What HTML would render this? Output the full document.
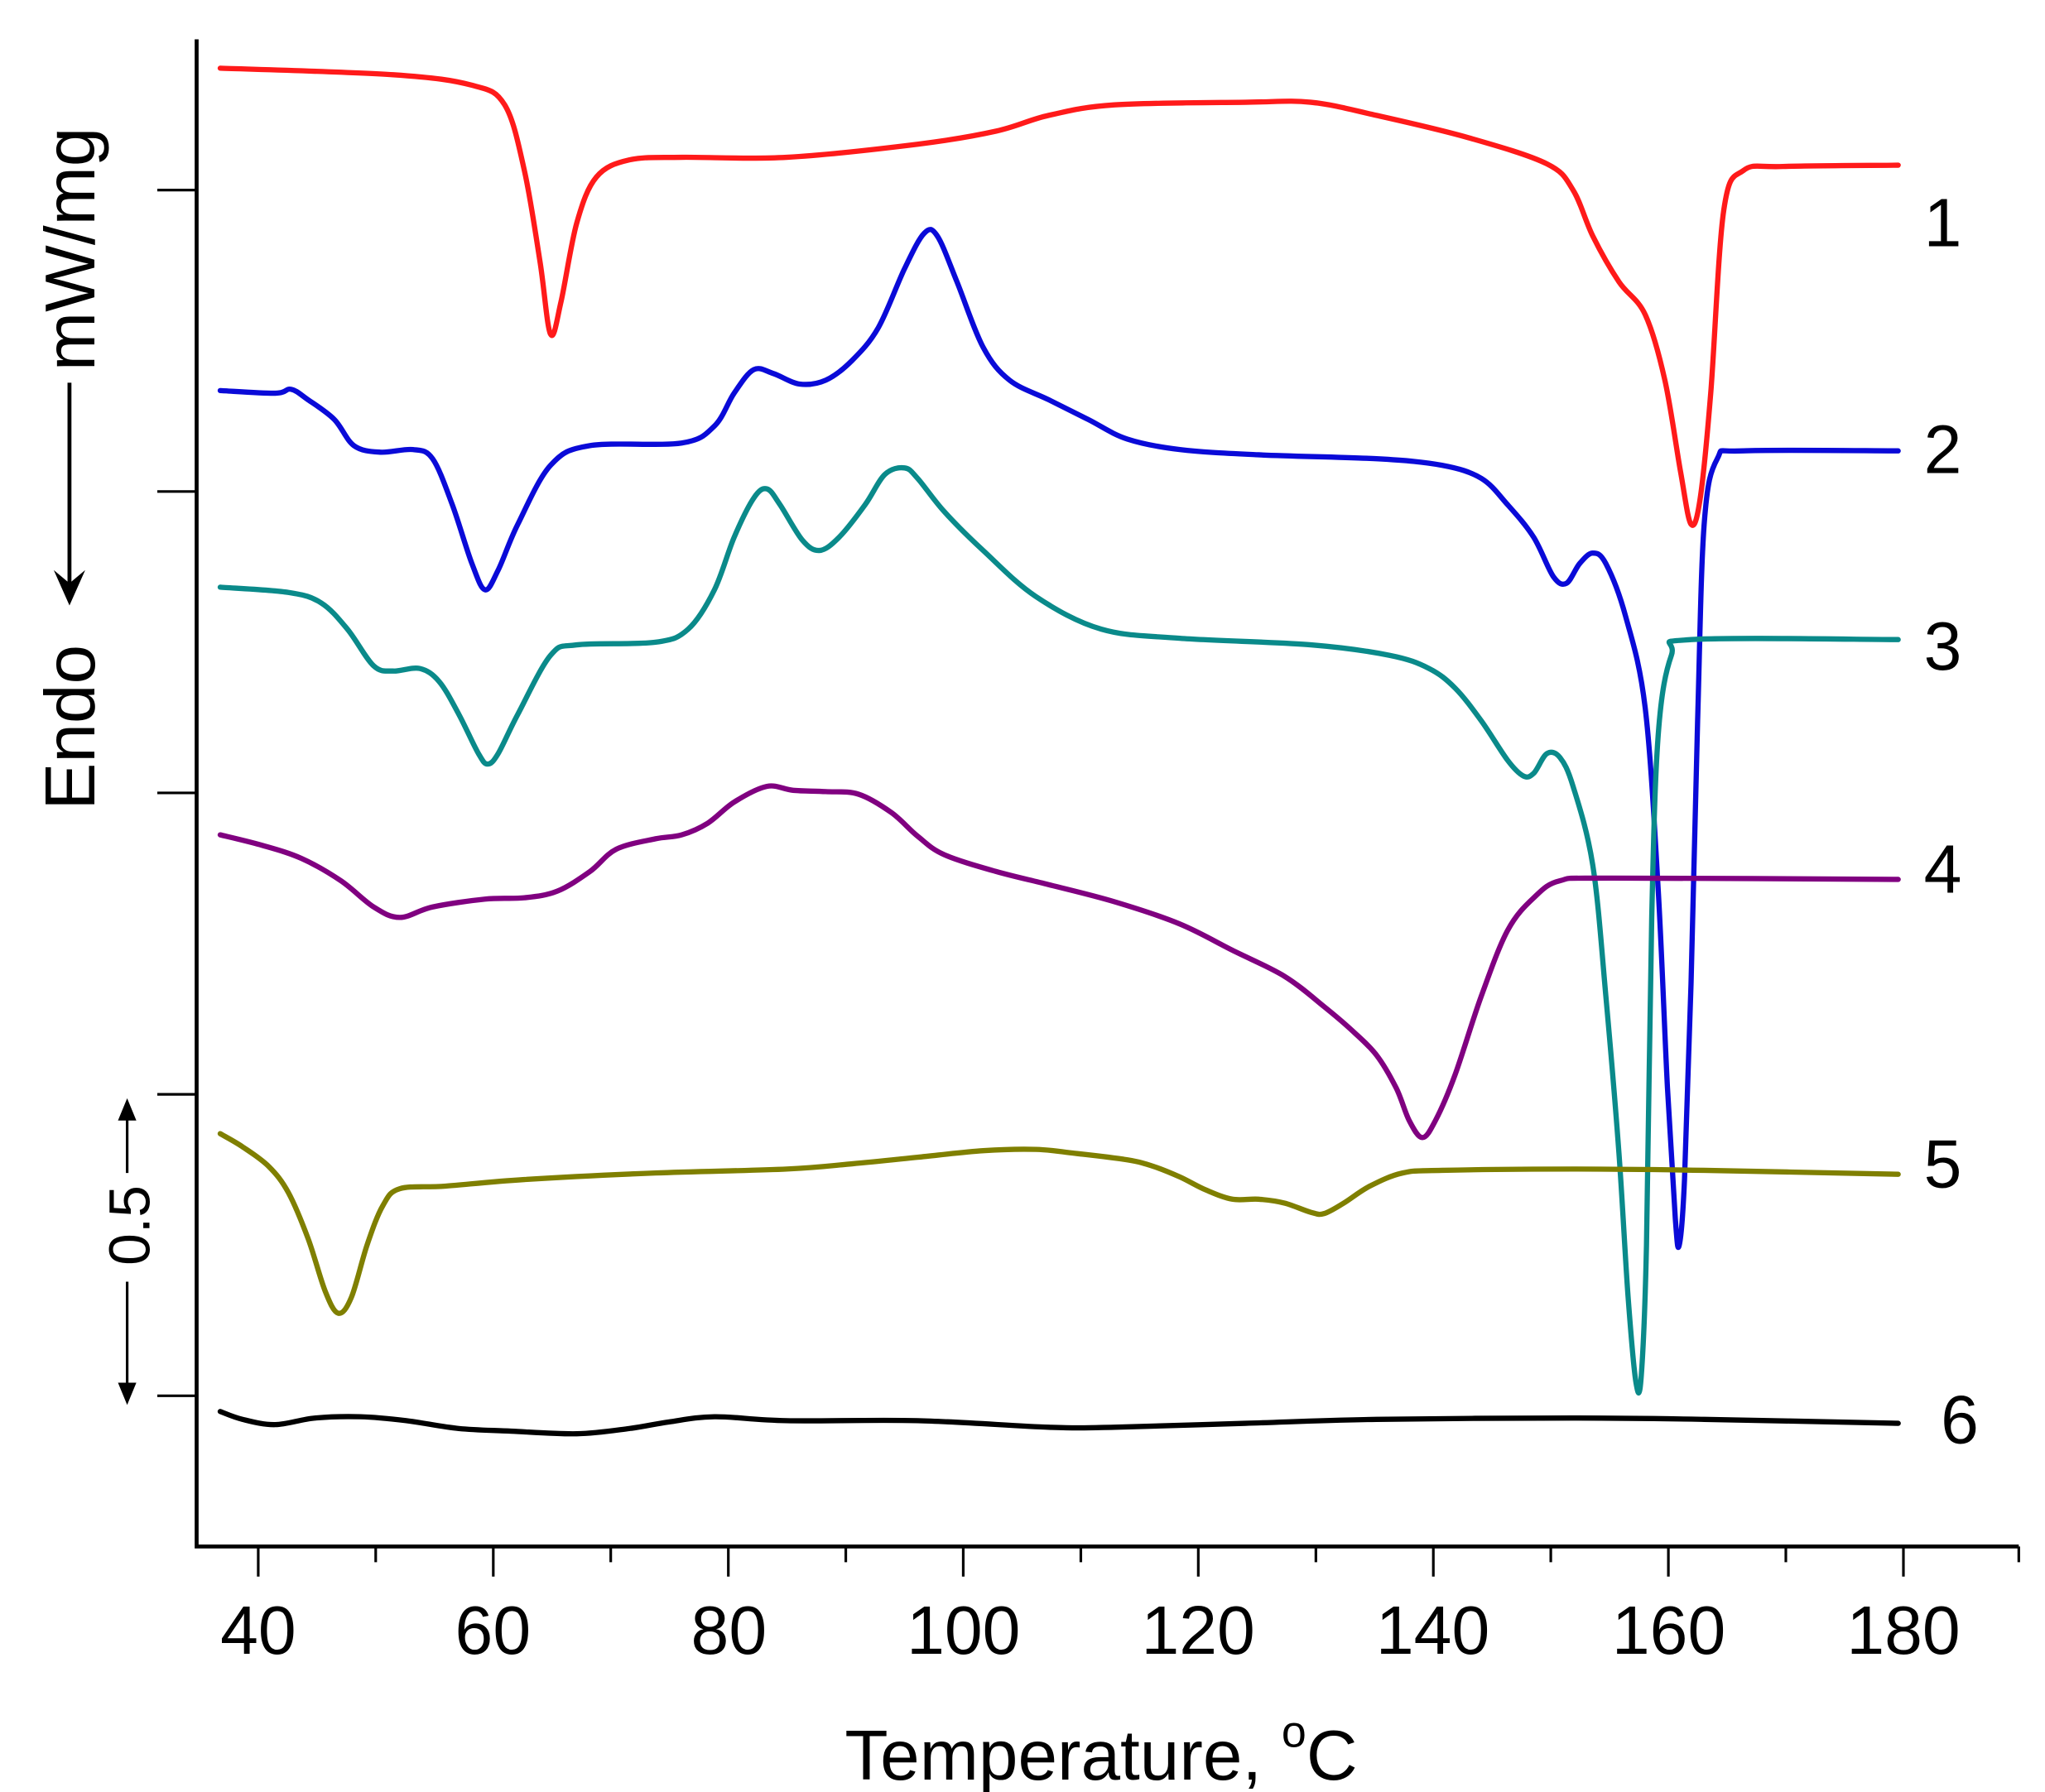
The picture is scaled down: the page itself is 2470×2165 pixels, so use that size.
<!DOCTYPE html>
<html><head><meta charset="utf-8"><style>
html,body{margin:0;padding:0;background:#fff;}
svg{display:block;}
text{font-family:"Liberation Sans",Arial,sans-serif;fill:#000;}
</style></head><body>
<svg id="s" width="2470" height="2165" viewBox="0 0 1560 1367.3" xmlns="http://www.w3.org/2000/svg">
<g id="curves" fill="none" stroke-linejoin="round" stroke-linecap="round" stroke-width="4">
<polyline stroke="#ff1a1a" points="168,52 300,57 360,65 385,80 400,130 412,200 420,255 428,230 440,170 455,135 480,122 520,120 600,120 700,110 760,100 800,88 850,80 950,78 1000,78 1050,88 1120,105 1180,125 1200,145 1215,180 1235,215 1255,240 1270,290 1282,360 1290,400 1297,380 1305,300 1315,160 1330,130 1360,127 1448,126"/>
<polyline stroke="#0a0ad8" points="168,298 210,300 222,297 235,305 255,320 270,340 290,345 315,343 330,350 345,385 360,430 370,450 380,435 395,400 420,355 450,340 520,338 545,325 560,300 575,282 590,285 610,293 630,290 650,275 670,250 690,205 705,178 715,180 730,215 750,265 770,290 800,305 830,320 860,335 900,343 960,347 1050,350 1100,355 1130,365 1150,385 1170,410 1185,440 1195,445 1205,430 1215,422 1225,430 1240,470 1255,540 1265,680 1272,830 1278,930 1281,950 1285,900 1290,750 1295,550 1300,400 1310,350 1330,344 1448,344"/>
<polyline stroke="#0a8a8a" points="168,448 220,452 245,460 265,480 285,508 300,512 320,510 335,520 350,545 365,575 372,583 380,575 395,545 420,500 440,492 500,490 525,480 545,450 560,410 575,380 585,373 595,385 612,412 625,420 640,410 660,385 675,362 690,357 700,365 720,390 750,420 790,455 840,480 900,487 1000,492 1060,500 1090,510 1110,525 1130,550 1150,580 1162,592 1170,590 1180,575 1190,578 1200,600 1215,660 1225,760 1235,880 1242,990 1248,1055 1252,1050 1256,950 1260,700 1265,560 1275,500 1290,488 1448,488"/>
<polyline stroke="#800080" points="168,637 200,645 230,655 260,672 285,692 305,700 330,692 370,686 400,685 425,680 450,665 470,648 500,640 520,637 540,628 560,612 585,600 605,603 630,604 655,606 680,620 700,638 720,652 760,665 800,675 850,688 900,705 940,725 980,745 1010,768 1030,785 1050,805 1065,830 1075,855 1085,868 1095,855 1110,820 1130,760 1150,710 1170,685 1190,672 1230,670 1448,671"/>
<polyline stroke="#7f7f00" points="168,865 185,875 205,890 220,910 235,945 248,985 258,1002 268,990 280,950 292,920 305,907 340,905 400,900 500,895 600,892 650,888 700,883 750,878 790,877 820,880 860,885 880,890 900,898 920,908 940,915 960,915 980,918 1000,925 1010,926 1025,918 1045,905 1070,895 1100,893 1200,892 1300,893 1448,896"/>
<polyline stroke="#000" points="168,1077 185,1083 210,1087 240,1082 275,1081 310,1084 350,1090 390,1092 440,1094 480,1090 510,1085 545,1081 600,1084 700,1084 800,1089 850,1089 950,1086 1050,1083 1200,1082 1300,1083 1448,1086"/>
</g>
<g stroke="#000" fill="none">
<path d="M150,30 V1180 H1540" stroke-width="3"/>
<path d="M120,145H150M120,375H150M120,605H150M120,835H150M120,1065H150" stroke-width="2"/>
<path d="M197,1180V1203M286.6,1180V1192M376.3,1180V1203M465.9,1180V1192M555.6,1180V1203M645.2,1180V1192M734.8,1180V1203M824.5,1180V1192M914.1,1180V1203M1003.8,1180V1192M1093.4,1180V1203M1183,1180V1192M1272.7,1180V1203M1362.3,1180V1192M1452,1180V1203M1540,1180V1192" stroke-width="2"/>
</g>
<g font-size="52" text-anchor="middle">
<text x="197" y="1262">40</text><text x="376" y="1262">60</text><text x="556" y="1262">80</text>
<text x="735" y="1262">100</text><text x="914" y="1262">120</text><text x="1093" y="1262">140</text>
<text x="1273" y="1262">160</text><text x="1452" y="1262">180</text>
</g>
<text x="840" y="1358" font-size="54" text-anchor="middle">Temperature, <tspan font-size="34" dy="-25">o</tspan><tspan dy="25">C</tspan></text>
<g font-size="52" text-anchor="middle">
<text x="1482" y="188">1</text><text x="1482" y="361">2</text><text x="1482" y="511">3</text>
<text x="1482" y="681">4</text><text x="1482" y="906">5</text><text x="1495" y="1101">6</text>
</g>
<text transform="translate(72,555) rotate(-90)" font-size="54" text-anchor="middle">Endo</text>
<text transform="translate(72,190) rotate(-90)" font-size="54" text-anchor="middle">mW/mg</text>
<path d="M53,292V450" stroke="#000" stroke-width="3"/>
<path d="M41,435L53,462L65,435L53,445Z" fill="#000"/>
<text transform="translate(114,935) rotate(-90)" font-size="44" text-anchor="middle">0.5</text>
<path d="M97,845V895M97,978V1065" stroke="#000" stroke-width="2"/>
<path d="M90,855L97,838L104,855Z M90,1055L97,1072L104,1055Z" fill="#000"/>
</svg>
<script>
(function(){
var pls=document.querySelectorAll('#curves polyline');
for(var k=0;k<pls.length;k++){
 var pl=pls[k];
 var p=pl.getAttribute('points').trim().split(/\s+/).map(function(s){return s.split(',').map(Number);});
 var d='M'+p[0][0]+','+p[0][1];
 for(var i=0;i<p.length-1;i++){
  var p0=p[i-1]||p[i],p1=p[i],p2=p[i+1],p3=p[i+2]||p2;
  var t=1/6;
  var c1x=p1[0]+(p2[0]-p0[0])*t,c1y=p1[1]+(p2[1]-p0[1])*t;
  var c2x=p2[0]-(p3[0]-p1[0])*t,c2y=p2[1]-(p3[1]-p1[1])*t;
  d+=' C'+c1x.toFixed(1)+','+c1y.toFixed(1)+' '+c2x.toFixed(1)+','+c2y.toFixed(1)+' '+p2[0]+','+p2[1];
 }
 var path=document.createElementNS('http://www.w3.org/2000/svg','path');
 path.setAttribute('d',d);path.setAttribute('stroke',pl.getAttribute('stroke'));
 pl.parentNode.replaceChild(path,pl);
}
})();
</script>
</body></html>
